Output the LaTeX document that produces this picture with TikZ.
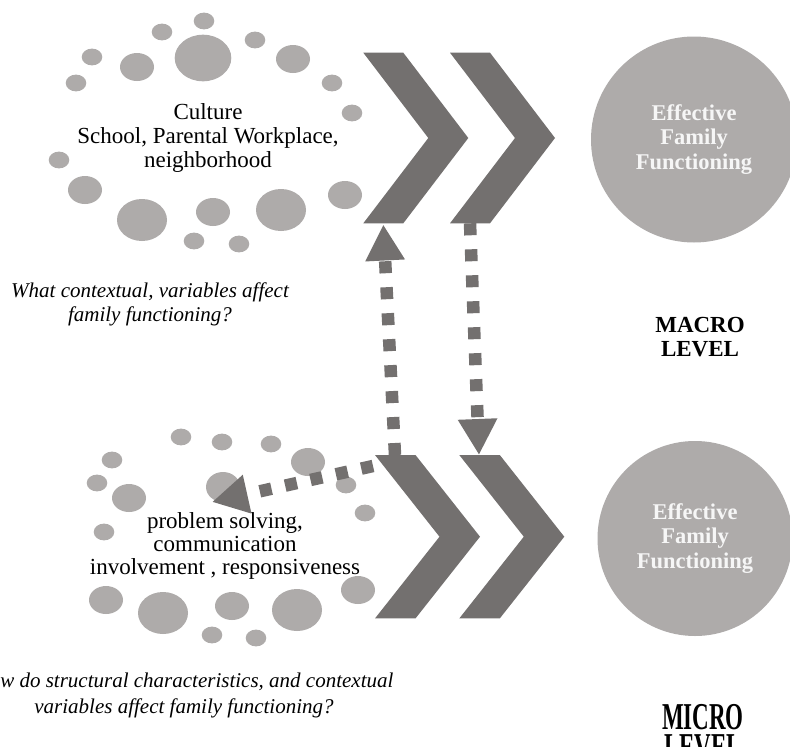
\documentclass[tikz,border=0pt]{standalone}
\usepackage{fontspec}
\setmainfont{Liberation Serif}
\usetikzlibrary{arrows.meta}
\definecolor{chevgray}{RGB}{115,112,111}
\definecolor{dotgray}{RGB}{174,171,170}
\definecolor{labelwhite}{RGB}{246,246,246}

\begin{document}
\begin{tikzpicture}[x=1pt,y=-1pt,
  dot/.style={fill=dotgray},
  chevron/.style={fill=chevgray},
  goal/.style={circle, fill=dotgray, inner sep=0pt, text=labelwhite, align=center,
    font=\fontsize{22.5}{24.5}\selectfont\bfseries},
  bodytext/.style={align=center, inner sep=0pt, font=\fontsize{23}{23.8}\selectfont},
  question/.style={align=center, inner sep=0pt, font=\fontsize{21}{24.6}\selectfont\itshape},
  leveltext/.style={align=center, inner sep=0pt, font=\fontsize{23}{24}\selectfont\bfseries},
  link/.style={draw=chevgray, line width=12.5pt, dash pattern=on 12pt off 14pt,
    -{Triangle[length=36pt,width=37pt]}},
]
% page
\fill[white] (0,0) rectangle (790,747);
\useasboundingbox (0,0) rectangle (790,747);

% ---- macro level: ring of context bubbles
\foreach \x/\y/\rx/\ry in {
  204/21/10.3/8.4, 162/32/10.3/8.4, 255/40/10.3/8.4, 203/58/28.3/23.3,
  293/59/17/14, 92/57/10.3/8.4, 137/67/17/14, 76/83/10.3/8.4,
  332/83/10.3/8.4, 352/113/10.3/8.4, 59/160/10.3/8.4, 85/190/17/14,
  345/195/17/14, 142/220/25/21, 213/212/17/14, 281/210/25/21,
  194/241/10.3/8.4, 239/244/10.3/8.4}
  \fill[dot] (\x,\y) ellipse [x radius=\rx, y radius=\ry];

% ---- micro level: ring of process bubbles
\foreach \x/\y/\rx/\ry in {
  181/437/10.3/8.4, 222/442/10.3/8.4, 271/444/10.3/8.4, 112/460/10.3/8.4,
  308/462/17/14, 97/483/10.3/8.4, 129/498/17/14, 223/487/17/15,
  346/485/10.3/8.4, 365/513/10.3/8.4, 104/532/10.3/8.4, 358/590/17/14,
  106/600/17/14, 163/613/25/21, 232/606/17/14, 297/610/25/21,
  212/635/10.3/8.4, 256/638/10.3/8.4}
  \fill[dot] (\x,\y) ellipse [x radius=\rx, y radius=\ry];

% ---- texts inside the rings
\node[bodytext] (macroctx) at (208,137.7)
  {Culture\\School, Parental Workplace,\\neighborhood};
\node[bodytext, font=\fontsize{23}{23}\selectfont] (microctx) at (225,546)
  {problem solving,\\communication\\involvement , responsiveness};

% ---- guiding questions
\node[question] (macroq) at (150,304.5)
  {What contextual, variables affect\\family functioning?};
\node[question, font=\fontsize{21}{26}\selectfont\itshape] (microq) at (184,695)
  {How do structural characteristics, and contextual\\variables affect family functioning?};

% ---- chevrons
\coordinate (ch1) at (363.3,52.7);
\coordinate (ch2) at (450,52.7);
\coordinate (ch3) at (375,455);
\coordinate (ch4) at (459.3,455);
\foreach \c in {ch1,ch2}
  \fill[chevron] (\c) -- ++(40,0) -- ++(65,85.3) -- ++(-65,85.3) -- ++(-40,0)
    -- ++(65,-85.3) -- cycle;
\foreach \c in {ch3,ch4}
  \fill[chevron] (\c) -- ++(40.5,0) -- ++(64.5,81.7) -- ++(-64.5,81.7) -- ++(-40.5,0)
    -- ++(64.5,-81.7) -- cycle;

% ---- outcome circles
\node[goal, minimum size=206pt] (macrogoal) at (694,139.5)
  {Effective\\Family\\Functioning};
\node[goal, minimum size=195pt] (microgoal) at (695,538.5)
  {Effective\\Family\\Functioning};

% ---- level labels
\node[leveltext] (macrolvl) at (700,337.3) {MACRO\\LEVEL};
\node[leveltext, font=\fontsize{23}{18}\selectfont\bfseries, yscale=1.65, transform shape]
  (microlvl) at (703,732) {MICRO\\LEVEL};

% ---- dashed links between the levels
\coordinate (ch1bot) at (383.3,224.5);
\coordinate (ch2bot) at (470,223.3);
\coordinate (ch3top) at (395,455);
\coordinate (ch4top) at (479,455);
\coordinate (ch3side) at (373,466);
\coordinate (ctxtip) at (212,502);
\draw[link] (ch3top) -- (ch1bot);
\draw[link] (ch2bot) -- (ch4top);
\draw[link] (ch3side) -- (ctxtip);
\end{tikzpicture}
\end{document}
